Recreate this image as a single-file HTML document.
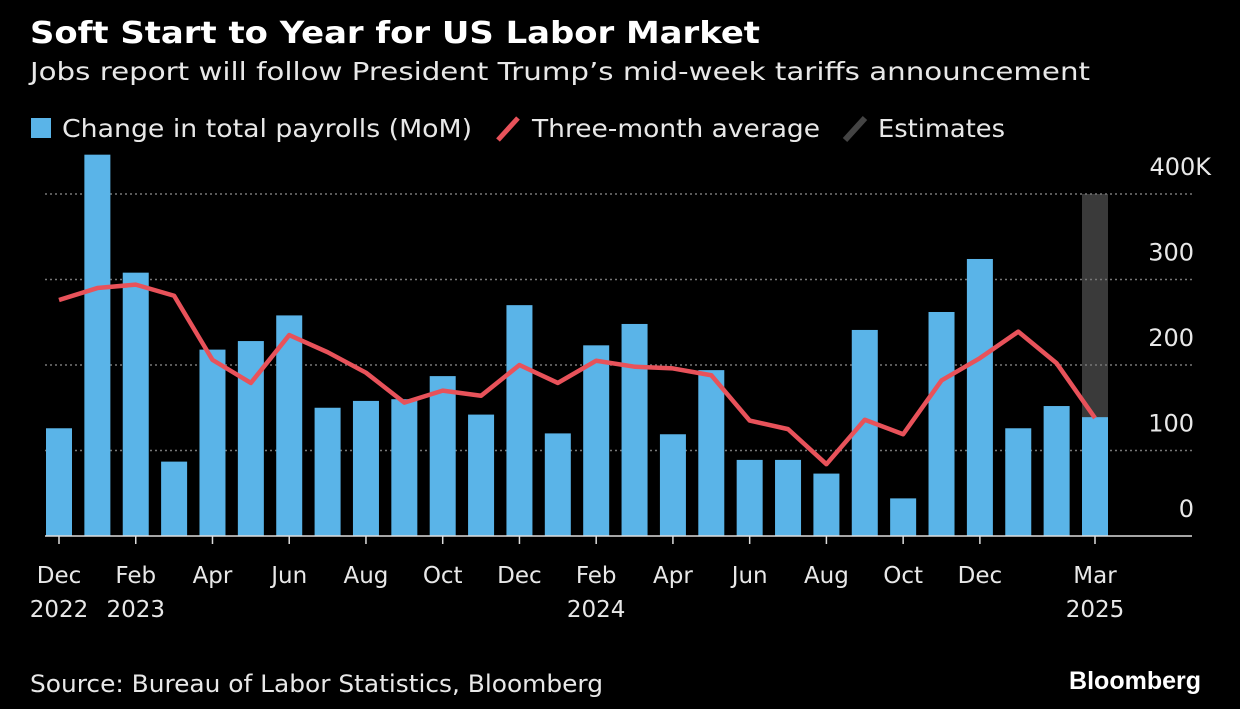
<!DOCTYPE html>
<html><head><meta charset="utf-8"><style>
body{margin:0;background:#000;width:1240px;height:709px;overflow:hidden;font-family:"DejaVu Sans","Liberation Sans",sans-serif;color:#e8e8e8}
</style></head><body>
<svg width="1240" height="709" style="position:absolute;left:0;top:0">
<text x="30" y="43" font-size="30" font-weight="bold" fill="#fff" textLength="730" lengthAdjust="spacingAndGlyphs">Soft Start to Year for US Labor Market</text>
<text x="30" y="80" font-size="25" fill="#e8e8e8" textLength="1060" lengthAdjust="spacingAndGlyphs">Jobs report will follow President Trump’s mid-week tariffs announcement</text>
<g font-size="25" fill="#e8e8e8">
<rect x="31" y="118" width="20" height="20" fill="#5ab4e8"/>
<text x="62" y="137" textLength="410" lengthAdjust="spacingAndGlyphs">Change in total payrolls (MoM)</text>
<line x1="498" y1="140" x2="518" y2="118" stroke="#e8525a" stroke-width="5"/>
<text x="532" y="137" textLength="288" lengthAdjust="spacingAndGlyphs">Three-month average</text>
<line x1="845" y1="140" x2="865" y2="118" stroke="#444" stroke-width="6"/>
<text x="878" y="137" textLength="127" lengthAdjust="spacingAndGlyphs">Estimates</text>
</g>
<g id="plot"></g>
<text x="30" y="692" font-size="24" fill="#e8e8e8" textLength="573" lengthAdjust="spacingAndGlyphs">Source: Bureau of Labor Statistics, Bloomberg</text>
<text x="1201" y="689" font-size="25" font-weight="bold" fill="#fff" text-anchor="end" font-family="Liberation Sans, sans-serif">Bloomberg</text>
</svg>
<script>
const payrolls=[126,446,308,87,218,228,258,150,158,160,187,142,270,120,223,248,119,194,89,89,73,241,44,262,324,126,152,139];
const average=[276,290,294,281,206,179,235,215,191,156,170,164,200,179,205,198,196,188,135,125,84,136,119,182,208,239,202,138];
const yTicks=[0,100,200,300,400];
const yTickLabels=["0","100","200","300","400K"];
const xLabels=[[0,"Dec","2022"],[2,"Feb","2023"],[4,"Apr",""],[6,"Jun",""],[8,"Aug",""],[10,"Oct",""],[12,"Dec",""],[14,"Feb","2024"],[16,"Apr",""],[18,"Jun",""],[20,"Aug",""],[22,"Oct",""],[24,"Dec",""],[27,"Mar","2025"]];
const estimateIndex=27;
const NS="http://www.w3.org/2000/svg";
const g=document.getElementById('plot');
const x=i=>59+i*(1095-59)/27;
const y=v=>536-v*0.855;
function mk(t,a){const e=document.createElementNS(NS,t);for(const k in a)e.setAttribute(k,a[k]);g.appendChild(e);return e;}
let r=mk('rect',{x:x(estimateIndex)-13,y:y(400),width:26,height:y(0)-y(400),fill:'#3a3a3a'});


yTicks.forEach((t,i)=>{
 if(t>0){const l=mk('line',{x1:45,x2:1192,y1:y(t),y2:y(t),stroke:'#777','stroke-width':1.5,'stroke-dasharray':'2 3'});
 
 }
 const lbl=yTickLabels[i];
 const tx=mk('text',{x:lbl.endsWith('K')?1211:1194,y:y(t)-19,'font-size':24,fill:'#e8e8e8','text-anchor':'end'});tx.textContent=lbl;
 
 
});
payrolls.forEach((v,i)=>{
 const b=mk('rect',{x:x(i)-13,y:y(v),width:26,height:y(0)-y(v),fill:'#5ab4e8'});
 
 
});
const base=mk('line',{x1:45,x2:1192,y1:536,y2:536,stroke:'#ddd','stroke-width':1.5});


const p=mk('polyline',{points:average.map((v,i)=>x(i)+','+y(v)).join(' '),fill:'none',stroke:'#e8525a','stroke-width':4.5,'stroke-linejoin':'round'});


xLabels.forEach(([i,m,yr])=>{
 const tk=mk('line',{x1:x(i),x2:x(i),y1:536,y2:544,stroke:'#ddd','stroke-width':1.5});
 
 
 const t=mk('text',{x:x(i),y:583,'font-size':23,fill:'#e8e8e8','text-anchor':'middle'});t.textContent=m;
 
 
 if(yr){const t2=mk('text',{x:x(i),y:617,'font-size':23,fill:'#e8e8e8','text-anchor':'middle'});t2.textContent=yr;
 
 }
});
</script>
</body></html>
